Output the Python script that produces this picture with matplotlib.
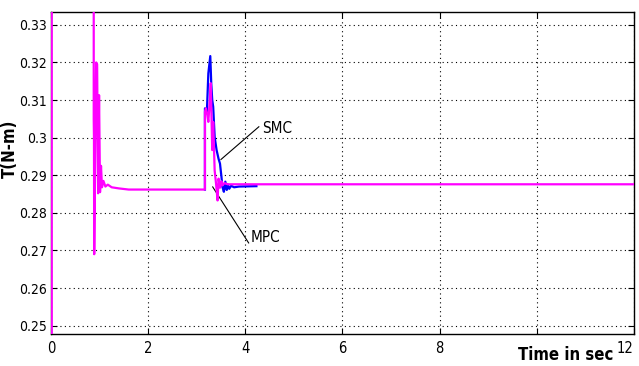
import matplotlib
matplotlib.use('Agg')
import matplotlib.pyplot as plt
from matplotlib import font_manager

# MPC response (magenta)
t_mpc = [0.015, 0.015, 0.88, 0.88, 0.885, 0.89, 0.93, 0.95, 0.97, 0.99, 1.01, 1.03, 1.05,
         1.08, 1.12, 1.17, 1.25, 1.4, 1.6, 3.17, 3.17, 3.19, 3.22, 3.24, 3.27,
         3.29, 3.32, 3.34, 3.37, 3.40, 3.43, 3.45, 3.48, 3.51, 3.53, 3.57, 3.64, 12]
y_mpc = [0.20, 0.40, 0.40, 0.305, 0.300, 0.269, 0.320, 0.3195, 0.2852, 0.3113, 0.2855,
         0.2925, 0.2868, 0.2885, 0.2870, 0.2875, 0.2868, 0.2865, 0.2862, 0.2862, 0.3069,
         0.3078, 0.3060, 0.3042, 0.3100, 0.3145, 0.2967, 0.3042, 0.2913, 0.2876, 0.2833,
         0.2891, 0.2867, 0.2884, 0.2873, 0.2879, 0.2876, 0.2876]

# SMC response (blue)
t_smc = [3.17, 3.17, 3.21, 3.24, 3.28, 3.30, 3.32, 3.34, 3.37, 3.41, 3.45, 3.48,
         3.51, 3.53, 3.56, 3.59, 3.62, 3.64, 3.67, 3.71, 3.77, 3.87, 4.23]
y_smc = [0.2862, 0.3078, 0.3069, 0.3171, 0.3217, 0.3144, 0.3100, 0.3082, 0.3002,
         0.2967, 0.2944, 0.2931, 0.2896, 0.2869, 0.2856, 0.2883, 0.2861, 0.2876,
         0.2864, 0.2872, 0.2868, 0.2870, 0.2871]

xticks = [0, 2, 4, 6, 8, 10, 12]
xticklabels = ['0', '2', '4', '6', '8', '', '12']
yticks = [0.25, 0.26, 0.27, 0.28, 0.29, 0.3, 0.31, 0.32, 0.33]
yticklabels = ['0.25', '0.26', '0.27', '0.28', '0.29', '0.3', '0.31', '0.32', '0.33']

# narrow font if there is one
stretches = set(f.stretch for f in font_manager.fontManager.ttflist if f.name == 'DejaVu Sans')
cond = 'condensed' if 'condensed' in stretches else 'normal'
plt.rcParams['font.family'] = ['DejaVu Sans']
plt.rcParams['font.stretch'] = cond

fig = plt.figure(figsize=(6.39, 3.66), dpi=100, facecolor='white')
ax = fig.add_axes([0.0798, 0.0866, 0.912, 0.8814])

ax.plot(t_smc, y_smc, color='#0000ff', lw=1.6, zorder=3)
ax.plot(t_mpc, y_mpc, color='#ff00ff', lw=1.6, zorder=3)

ax.set_xlim(0, 12)
ax.set_ylim(0.2477, 0.3335)
ax.set_xticks(xticks)
ax.set_xticklabels(xticklabels, fontsize=10.5)
ax.get_xticklabels()[-1].set_ha('right')
ax.set_yticks(yticks)
ax.set_yticklabels(yticklabels, fontsize=10)
ax.tick_params(direction='in', top=True, right=True, length=4, width=0.8)
ax.tick_params(axis='y', pad=3)
ax.tick_params(axis='x', pad=5)
ax.grid(True, color='black', linestyle=(0, (1, 3)), linewidth=0.8)
for s in ax.spines.values():
    s.set_linewidth(1.0)

fig.text(10 / 639, 1 - 149 / 366, 'T(N-m)', rotation=90, ha='center', va='center',
         fontsize=12, fontweight='bold')
ax.text(10.6, -0.035, 'Time in sec', transform=ax.get_xaxis_transform(),
        ha='center', va='top', fontsize=12, fontweight='bold')

# annotation lines
ax.plot([3.50, 4.28], [0.2942, 0.3029], color='black', lw=0.8)
ax.text(4.35, 0.3025, 'SMC', fontsize=11, va='center', ha='left')
ax.plot([3.33, 4.07], [0.2869, 0.2720], color='black', lw=0.8)
ax.text(4.12, 0.2735, 'MPC', fontsize=11, va='center', ha='left')

fig.savefig('out.png', dpi=100, facecolor='white')
